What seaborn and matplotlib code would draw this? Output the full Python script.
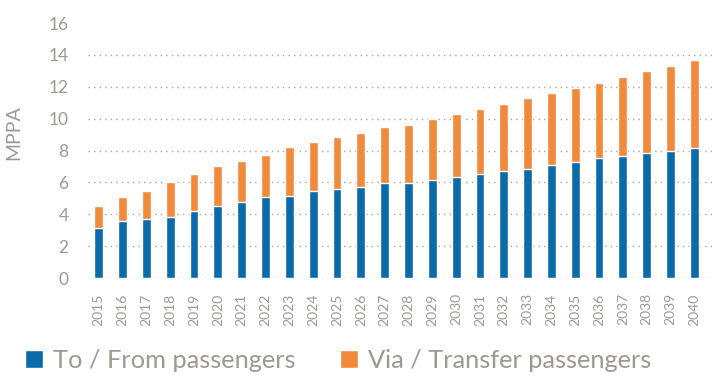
import numpy as np
import pandas as pd
import matplotlib
matplotlib.use("Agg")
import matplotlib.pyplot as plt
import seaborn as sns
from matplotlib.patches import Patch

# Data (million passengers per annum)
years = [str(y) for y in range(2015, 2041)]
to_from = [3.14, 3.60, 3.68, 3.85, 4.22, 4.55, 4.78, 5.10, 5.16, 5.43, 5.60, 5.71, 5.97,
           5.97, 6.16, 6.36, 6.53, 6.70, 6.84, 7.07, 7.30, 7.51, 7.67, 7.84, 8.00, 8.17]
totals = [4.55, 5.10, 5.47, 6.03, 6.51, 7.01, 7.34, 7.72, 8.22, 8.53, 8.86, 9.13, 9.46,
          9.63, 9.98, 10.29, 10.60, 10.94, 11.27, 11.58, 11.92, 12.25, 12.63, 12.96, 13.29, 13.66]
via_transfer = [round(t - b, 2) for t, b in zip(totals, to_from)]

blue = "#0b6aaa"
orange = "#f28a3b"
grey = "#9e9892"

sns.set_style("white")
plt.rcParams['font.family'] = ['Lato', 'DejaVu Sans']

df = pd.DataFrame({'year': years, 'to_from': to_from, 'via': via_transfer})
df['total'] = df['to_from'] + df['via']

fig = plt.figure(figsize=(7.13, 3.84), dpi=100)
ax = fig.add_axes([0.1234, 0.276, 0.8752, 0.664])

# stacked bars: full total in orange, blue part drawn over it
sns.barplot(data=df, x='year', y='total', color=orange, width=0.37,
            saturation=1, ax=ax, zorder=3)
sns.barplot(data=df, x='year', y='to_from', color=blue, width=0.37,
            saturation=1, ax=ax, zorder=4)

ax.set_xlim(-0.45, 25.74)
ax.set_ylim(0, 16)
ax.set_yticks(range(0, 17, 2))
for v in range(0, 16, 2):
    ax.axhline(v, color='#a8a4a0', linestyle=(0, (1, 3)), linewidth=1.0, zorder=1)

for s in ax.spines.values():
    s.set_visible(False)

ax.tick_params(axis='y', length=0, labelsize=12.5, labelcolor=grey, pad=14)
ax.tick_params(axis='x', length=0, labelsize=10, labelcolor=grey, rotation=90, pad=11)
ax.set_xlabel('')
ax.set_ylabel('MPPA', fontsize=14, color=grey)
ax.yaxis.set_label_coords(-0.106, 0.57)

handles = [Patch(facecolor=blue, label='To / From passengers'),
           Patch(facecolor=orange, label='Via / Transfer passengers')]
fig.legend(handles=handles, loc='lower left', bbox_to_anchor=(25 / 713, 0.032), ncol=2,
           frameon=False, fontsize=18.3, labelcolor=grey, handlelength=0.7,
           handleheight=0.7, handletextpad=0.4, columnspacing=1.75,
           borderpad=0, borderaxespad=0)

fig.savefig('out.png', dpi=100)
